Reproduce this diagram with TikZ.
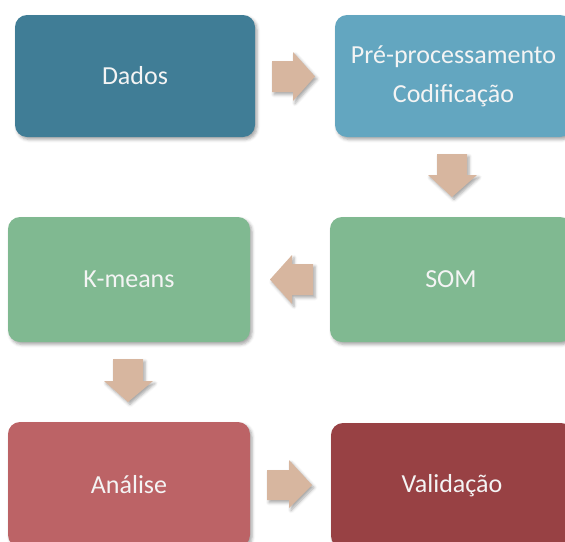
\documentclass[tikz,border=0pt]{standalone}
\usepackage{fontspec}
\setmainfont{Carlito}
\usetikzlibrary{shadows.blur}
\definecolor{cdados}{HTML}{407D96}
\definecolor{cpre}{HTML}{63A6C0}
\definecolor{cgreen}{HTML}{80B991}
\definecolor{canal}{HTML}{BC6366}
\definecolor{cvalid}{HTML}{984144}
\definecolor{carrow}{HTML}{D7B69F}
\definecolor{ctext}{HTML}{F4F4F4}
\tikzset{
  softshadow/.style={blur shadow={shadow xshift=2pt, shadow yshift=-2.5pt, shadow blur radius=3pt, shadow opacity=35}},
  box/.style={rectangle, rounded corners=12pt, inner sep=0pt, align=center, text=ctext,
    font={\fontsize{26}{39}\selectfont}, softshadow},
  blockarrow/.style={fill=carrow, draw=none, softshadow},
}
\begin{document}
\begin{tikzpicture}[x=1pt, y=-1pt]
\useasboundingbox (0,0) rectangle (565,541);
\clip (0,0) rectangle (565,541);
% boxes
\node[box, fill=cdados, minimum width=240pt, minimum height=122pt] (dados) at (135,76) {Dados};
\node[box, fill=cpre, minimum width=237pt, minimum height=122pt] (pre) at (453.5,76) {Pré-processamento\\Codificação};
\node[box, fill=cgreen, minimum width=242pt, minimum height=125pt] (kmeans) at (129,279.5) {K-means};
\node[box, fill=cgreen, minimum width=242pt, minimum height=125pt] (som) at (451,279.5) {SOM};
\node[box, fill=canal, minimum width=242pt, minimum height=125pt] (analise) at (129,484.5) {Análise};
\node[box, fill=cvalid, minimum width=242pt, minimum height=125pt] (valid) at (452,485.5) {Validação};
% block arrows
\fill[blockarrow] (272,61) -- (293,61) -- (293,52) -- (315,76.5) -- (293,101) -- (293,92) -- (272,92) -- cycle;
\fill[blockarrow] (437,154) -- (467,154) -- (467,175) -- (477,175) -- (452,197) -- (428,175) -- (437,175) -- cycle;
\fill[blockarrow] (313,264) -- (292,264) -- (292,255) -- (270,279.5) -- (292,304) -- (292,295) -- (313,295) -- cycle;
\fill[blockarrow] (113,359) -- (143,359) -- (143,381) -- (153,381) -- (128,402) -- (104,381) -- (113,381) -- cycle;
\fill[blockarrow] (267,470) -- (289,470) -- (289,460) -- (312,485) -- (289,508) -- (289,500) -- (267,500) -- cycle;
\end{tikzpicture}
\end{document}
